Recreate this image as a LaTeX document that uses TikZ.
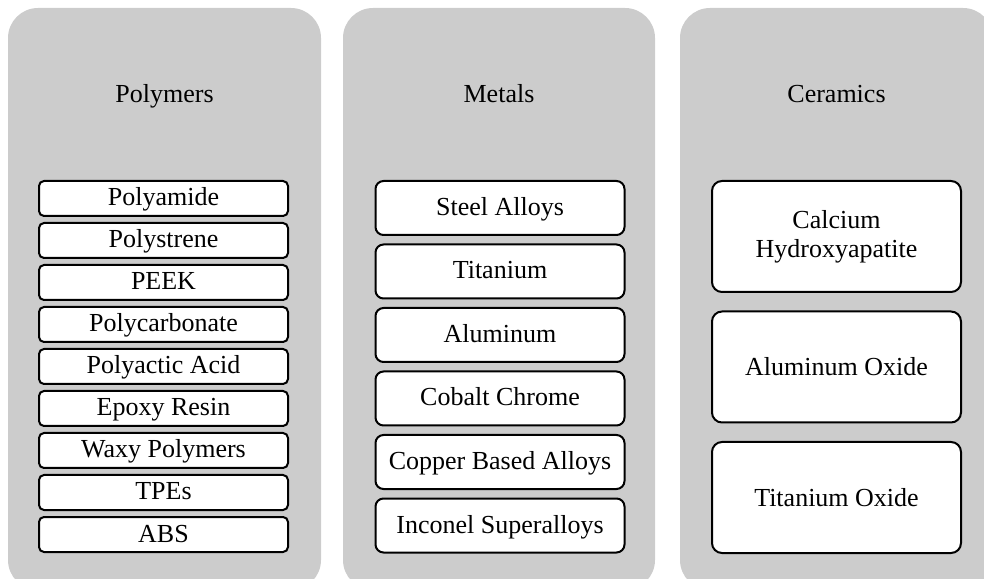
\documentclass[tikz,border=0pt]{standalone}
\usepackage{fontspec}
\setmainfont{Liberation Serif}

\tikzset{
  panel/.style={rectangle, rounded corners=30pt, fill=gray!40, draw=none,
    minimum width=313pt, minimum height=582pt},
  coltitle/.style={font=\fontsize{26}{29}\selectfont, text height=19pt, text depth=4pt},
  itembox/.style={rectangle, draw, line width=2pt, fill=white,
    minimum width=249pt, inner sep=0pt, font=\fontsize{26}{29}\selectfont},
  polybox/.style={itembox, rounded corners=5pt, minimum height=35pt,
    text height=19pt, text depth=4pt},
  metalbox/.style={polybox, rounded corners=8pt, minimum height=54pt},
  ceramicbox/.style={itembox, rounded corners=10pt, minimum height=111pt, align=center},
}

\begin{document}
\begin{tikzpicture}[x=1pt,y=1pt]
    \useasboundingbox (0,0) rectangle (984,578);

    % Background panels
    \node[panel] (polypanel) at (164.5,279) {};
    \node[panel, minimum width=312pt] (metalpanel) at (499,279) {};
    \node[panel] (ceramicpanel) at (836.5,279) {};

    % Panel titles
    \node[coltitle] (polytitle) at (164.5,483) {Polymers};
    \node[coltitle] (metaltitle) at (499,483) {Metals};
    \node[coltitle] (ceramictitle) at (836.5,483) {Ceramics};

    % Polymers
    \node[polybox] (polyamide) at (163.5,379.5) {Polyamide};
    \node[polybox] (polystrene) at (163.5,337.5) {Polystrene};
    \node[polybox] (peek) at (163.5,295.5) {PEEK};
    \node[polybox] (polycarb) at (163.5,253.5) {Polycarbonate};
    \node[polybox] (pla) at (163.5,211.5) {Polyactic Acid};
    \node[polybox] (epoxy) at (163.5,169.5) {Epoxy Resin};
    \node[polybox] (waxy) at (163.5,127.5) {Waxy Polymers};
    \node[polybox] (tpe) at (163.5,85.5) {TPEs};
    \node[polybox] (abs) at (163.5,43.5) {ABS};

    % Metals
    \node[metalbox] (steel) at (500,370) {Steel Alloys};
    \node[metalbox] (titanium) at (500,306.5) {Titanium};
    \node[metalbox] (aluminum) at (500,243) {Aluminum};
    \node[metalbox] (cobalt) at (500,179.5) {Cobalt Chrome};
    \node[metalbox] (copper) at (500,116) {Copper Based Alloys};
    \node[metalbox] (inconel) at (500,52.5) {Inconel Superalloys};

    % Ceramics
    \node[ceramicbox] (hydroxy) at (836.5,341.5) {Calcium\\Hydroxyapatite};
    \node[ceramicbox] (alumina) at (836.5,211) {Aluminum Oxide};
    \node[ceramicbox] (titania) at (836.5,80.5) {Titanium Oxide};
\end{tikzpicture}
\end{document}
